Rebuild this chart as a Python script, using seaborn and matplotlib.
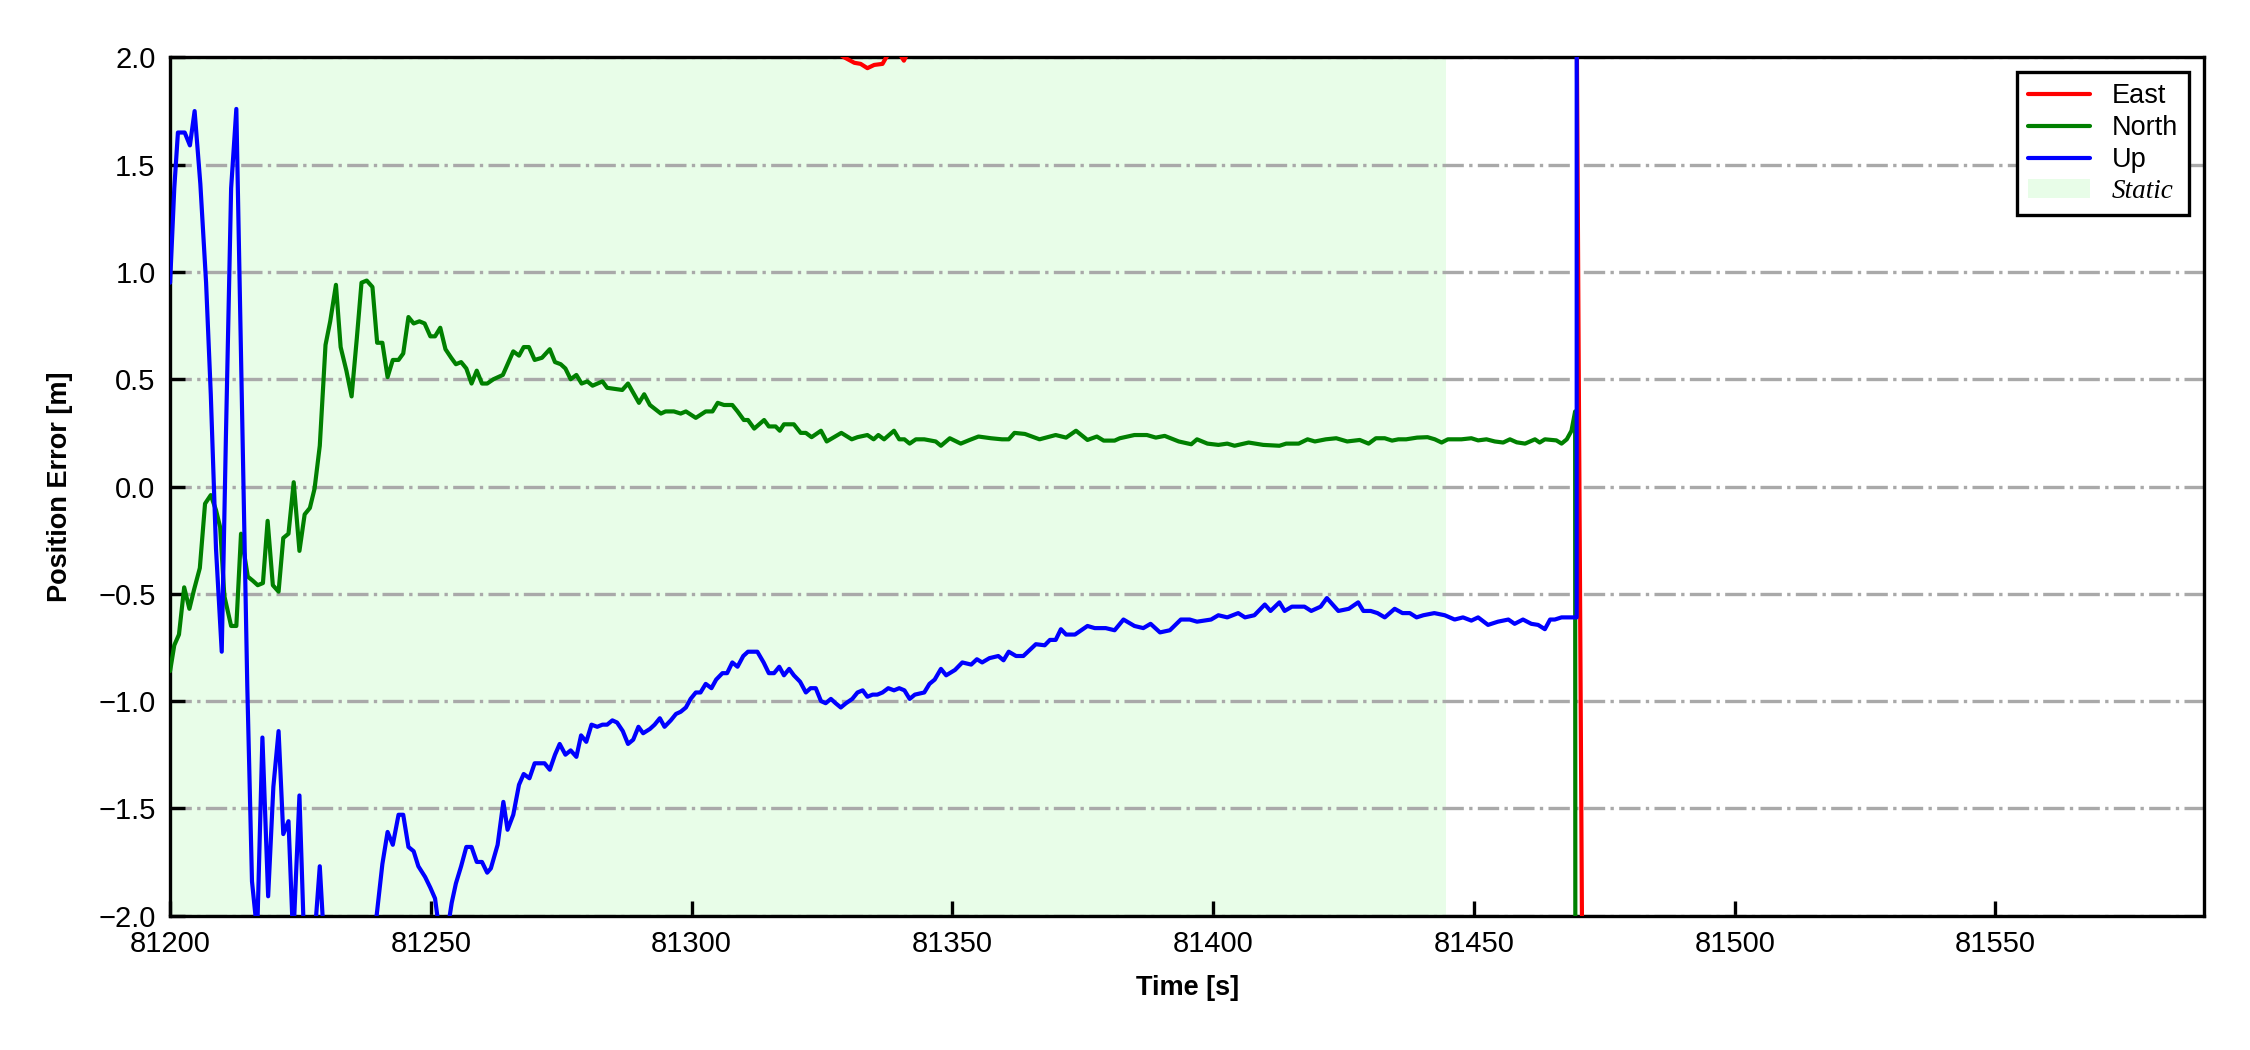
import numpy as np
import matplotlib
matplotlib.use("Agg")
import matplotlib.pyplot as plt
from matplotlib.patches import Patch
import seaborn as sns

# ---------------- data ----------------
t_north = [
    81200.0, 81200.8, 81201.7, 81202.7, 81203.7, 81204.6, 81205.7, 81206.7, 81207.8, 81208.8,
    81209.6, 81210.4, 81211.7, 81212.7, 81213.6, 81214.9, 81215.9, 81216.8, 81217.8, 81218.7,
    81219.7, 81220.8, 81221.7, 81222.7, 81223.7, 81224.8, 81225.8, 81226.8, 81227.7, 81228.7,
    81229.8, 81230.7, 81231.8, 81232.7, 81233.8, 81234.8, 81235.8, 81236.7, 81237.7, 81238.8,
    81239.7, 81240.7, 81241.7, 81242.7, 81243.8, 81244.7, 81245.7, 81246.7, 81247.8, 81248.8,
    81249.9, 81250.8, 81251.8, 81252.8, 81253.9, 81254.8, 81255.8, 81256.8, 81257.8, 81258.8,
    81259.8, 81260.8, 81262.0, 81263.8, 81265.8, 81266.9, 81267.8, 81268.8, 81269.9, 81271.3,
    81272.8, 81273.8, 81274.9, 81275.8, 81276.8, 81277.9, 81278.9, 81280.0, 81281.0, 81282.9,
    81283.8, 81286.7, 81287.8, 81289.9, 81290.9, 81292.0, 81294.1, 81295.0, 81296.6, 81297.9,
    81298.9, 81300.8, 81302.7, 81304.0, 81305.0, 81306.2, 81307.8, 81308.8, 81310.0, 81310.8,
    81312.0, 81313.9, 81314.8, 81316.1, 81316.9, 81317.7, 81319.6, 81320.9, 81321.9, 81323.0,
    81324.8, 81325.9, 81327.3, 81328.7, 81330.7, 81331.8, 81333.7, 81334.9, 81335.8, 81336.9,
    81338.8, 81339.8, 81340.8, 81341.8, 81343.0, 81344.6, 81346.8, 81347.8, 81349.5, 81351.6,
    81353.3, 81355.0, 81357.4, 81359.5, 81360.8, 81361.9, 81363.9, 81366.7, 81369.8, 81371.8,
    81373.7, 81375.9, 81377.7, 81379.0, 81381.1, 81382.1, 81384.9, 81387.3, 81389.0, 81390.7,
    81393.4, 81395.8, 81396.9, 81398.9, 81401.0, 81402.7, 81404.1, 81406.8, 81409.6, 81412.7,
    81414.0, 81416.4, 81418.1, 81419.5, 81421.6, 81423.6, 81425.7, 81428.1, 81429.8, 81431.2,
    81432.9, 81434.3, 81435.5, 81437.0, 81439.1, 81441.1, 81442.5, 81443.8, 81445.0, 81447.6,
    81449.5, 81450.8, 81452.4, 81454.0, 81455.6, 81456.9, 81458.2, 81459.8, 81461.7, 81462.6,
    81463.6, 81465.8, 81466.8, 81467.8, 81468.7, 81469.4, 81469.9,
]
north = [
    -0.86, -0.74, -0.69, -0.47, -0.57, -0.48, -0.38, -0.08, -0.04, -0.11,
    -0.19, -0.51, -0.65, -0.65, -0.22, -0.42, -0.44, -0.46, -0.45, -0.16,
    -0.46, -0.49, -0.24, -0.22, 0.02, -0.30, -0.13, -0.10, -0.01, 0.19,
    0.66, 0.77, 0.94, 0.65, 0.54, 0.42, 0.69, 0.95, 0.96, 0.93,
    0.67, 0.67, 0.51, 0.59, 0.59, 0.62, 0.79, 0.76, 0.77, 0.76,
    0.70, 0.70, 0.74, 0.64, 0.60, 0.57, 0.58, 0.55, 0.48, 0.54,
    0.48, 0.48, 0.50, 0.52, 0.63, 0.61, 0.65, 0.65, 0.59, 0.60,
    0.64, 0.58, 0.57, 0.55, 0.50, 0.52, 0.48, 0.49, 0.47, 0.49,
    0.46, 0.45, 0.48, 0.39, 0.43, 0.38, 0.34, 0.35, 0.35, 0.34,
    0.35, 0.32, 0.35, 0.35, 0.39, 0.38, 0.38, 0.35, 0.31, 0.31,
    0.27, 0.31, 0.28, 0.28, 0.26, 0.29, 0.29, 0.25, 0.25, 0.23,
    0.26, 0.21, 0.23, 0.25, 0.22, 0.23, 0.24, 0.22, 0.24, 0.22,
    0.26, 0.22, 0.22, 0.20, 0.22, 0.22, 0.21, 0.19, 0.225, 0.20,
    0.217, 0.233, 0.225, 0.22, 0.22, 0.25, 0.245, 0.22, 0.24, 0.228,
    0.26, 0.217, 0.233, 0.214, 0.214, 0.225, 0.24, 0.24, 0.228, 0.236,
    0.21, 0.197, 0.22, 0.20, 0.194, 0.20, 0.19, 0.205, 0.194, 0.19,
    0.20, 0.20, 0.22, 0.21, 0.22, 0.225, 0.21, 0.217, 0.20, 0.225,
    0.225, 0.214, 0.22, 0.22, 0.228, 0.23, 0.22, 0.205, 0.22, 0.22,
    0.225, 0.215, 0.22, 0.21, 0.205, 0.22, 0.206, 0.20, 0.22, 0.205,
    0.22, 0.215, 0.20, 0.22, 0.26, 0.35, -30.0,
]

t_up = [
    81200.0, 81200.8, 81201.5, 81202.8, 81203.8, 81204.7, 81205.8, 81206.9, 81207.8, 81208.8,
    81209.9, 81210.7, 81211.7, 81212.7, 81213.7, 81214.8, 81215.7, 81216.7, 81217.7, 81218.8,
    81219.8, 81220.8, 81221.7, 81222.7, 81223.6, 81224.8, 81225.8, 81226.8, 81227.7, 81228.7,
    81229.7, 81231.0, 81233.0, 81235.0, 81237.0, 81238.8, 81239.6, 81240.7, 81241.7, 81242.7,
    81243.8, 81244.7, 81245.7, 81246.7, 81247.6, 81248.9, 81249.9, 81250.8, 81251.5, 81252.5,
    81253.3, 81254.0, 81254.8, 81255.8, 81256.8, 81257.8, 81258.8, 81259.8, 81260.8, 81261.5,
    81262.8, 81263.9, 81264.7, 81265.8, 81266.9, 81267.8, 81268.9, 81269.9, 81271.8, 81272.8,
    81273.8, 81274.7, 81275.8, 81276.8, 81277.9, 81278.8, 81279.8, 81280.8, 81281.9, 81282.9,
    81283.8, 81284.8, 81285.7, 81286.8, 81287.8, 81288.8, 81289.8, 81290.7, 81292.0, 81292.9,
    81293.9, 81294.8, 81296.0, 81297.0, 81297.9, 81298.9, 81299.8, 81300.8, 81301.7, 81302.7,
    81303.8, 81304.7, 81305.9, 81306.8, 81307.8, 81308.8, 81309.9, 81310.8, 81312.6, 81313.8,
    81314.8, 81315.8, 81316.8, 81317.7, 81318.7, 81319.6, 81320.8, 81321.9, 81322.8, 81323.8,
    81324.8, 81325.7, 81326.7, 81327.6, 81328.6, 81329.6, 81330.8, 81331.8, 81332.8, 81333.7,
    81334.7, 81335.6, 81336.6, 81337.7, 81338.8, 81339.8, 81340.8, 81341.8, 81342.8, 81344.6,
    81345.6, 81346.6, 81347.8, 81348.8, 81350.5, 81351.9, 81353.6, 81354.7, 81355.7, 81357.1,
    81358.8, 81359.8, 81360.8, 81362.2, 81363.6, 81366.0, 81367.7, 81368.7, 81369.8, 81370.8,
    81371.8, 81373.5, 81375.9, 81377.3, 81379.4, 81381.1, 81382.8, 81384.9, 81386.6, 81388.0,
    81389.8, 81391.7, 81393.8, 81395.5, 81396.9, 81399.6, 81401.0, 81402.7, 81404.8, 81406.1,
    81407.9, 81409.9, 81411.0, 81412.7, 81413.7, 81415.1, 81417.5, 81418.8, 81420.6, 81421.8,
    81424.0, 81426.0, 81427.8, 81428.8, 81430.2, 81431.5, 81432.9, 81434.8, 81436.3, 81437.7,
    81439.0, 81440.3, 81442.4, 81444.4, 81446.3, 81447.9, 81449.5, 81450.8, 81452.7, 81454.6,
    81456.6, 81457.8, 81459.4, 81461.0, 81462.3, 81463.6, 81464.6, 81465.5, 81466.8, 81468.1,
    81469.7, 81469.75,
]
up = [
    0.95, 1.39, 1.65, 1.65, 1.59, 1.75, 1.41, 0.95, 0.43, -0.29,
    -0.77, 0.23, 1.39, 1.76, 0.48, -0.93, -1.84, -2.08, -1.17, -1.91,
    -1.40, -1.14, -1.62, -1.56, -2.12, -1.44, -2.20, -2.35, -2.10, -1.77,
    -2.20, -2.40, -2.50, -2.45, -2.30, -2.12, -2.00, -1.76, -1.61, -1.67,
    -1.53, -1.53, -1.68, -1.70, -1.77, -1.82, -1.87, -1.92, -2.05, -2.12,
    -2.05, -1.94, -1.85, -1.77, -1.68, -1.68, -1.75, -1.75, -1.80, -1.78,
    -1.67, -1.47, -1.60, -1.53, -1.39, -1.34, -1.36, -1.29, -1.29, -1.32,
    -1.25, -1.20, -1.25, -1.23, -1.26, -1.16, -1.19, -1.11, -1.12, -1.11,
    -1.11, -1.09, -1.10, -1.14, -1.20, -1.18, -1.12, -1.15, -1.13, -1.11,
    -1.08, -1.12, -1.09, -1.06, -1.05, -1.03, -0.99, -0.96, -0.96, -0.92,
    -0.94, -0.90, -0.87, -0.87, -0.82, -0.84, -0.79, -0.77, -0.77, -0.82,
    -0.87, -0.87, -0.84, -0.88, -0.85, -0.88, -0.91, -0.96, -0.94, -0.94,
    -1.00, -1.01, -0.99, -1.01, -1.03, -1.01, -0.99, -0.96, -0.95, -0.98,
    -0.97, -0.97, -0.96, -0.94, -0.95, -0.94, -0.95, -0.99, -0.97, -0.96,
    -0.92, -0.90, -0.85, -0.88, -0.855, -0.82, -0.83, -0.805, -0.82, -0.80,
    -0.79, -0.81, -0.77, -0.79, -0.79, -0.735, -0.74, -0.715, -0.715, -0.665,
    -0.69, -0.69, -0.65, -0.66, -0.66, -0.67, -0.62, -0.65, -0.66, -0.64,
    -0.68, -0.67, -0.62, -0.62, -0.63, -0.62, -0.60, -0.61, -0.59, -0.61,
    -0.60, -0.55, -0.58, -0.54, -0.58, -0.56, -0.56, -0.58, -0.56, -0.52,
    -0.58, -0.57, -0.54, -0.58, -0.58, -0.59, -0.61, -0.57, -0.59, -0.59,
    -0.61, -0.60, -0.59, -0.60, -0.62, -0.61, -0.625, -0.61, -0.645, -0.63,
    -0.62, -0.64, -0.62, -0.64, -0.645, -0.665, -0.62, -0.62, -0.61, -0.61,
    -0.61, 30.0,
]

t_east = [81200.0, 81230.0, 81260.0, 81290.0, 81315.0, 81326.0, 81329.3, 81331.2,
          81332.4, 81333.7, 81335.0, 81336.6, 81337.3, 81338.5, 81339.8, 81340.7,
          81341.6, 81350.0, 81380.0, 81420.0, 81469.7, 81470.8]
east = [3.4, 3.0, 2.6, 2.3, 2.12, 2.05, 2.0, 1.975,
        1.97, 1.95, 1.965, 1.97, 2.0, 2.04, 2.02, 1.985,
        2.03, 2.08, 2.15, 2.2, 2.2, -2.4]

static_span = [81200.0, 81444.6]
series_labels = ["East", "North", "Up", "Static"]
series_colors = ["#ff0000", "#008000", "#0000ff"]
static_color = "#e8fde8"
x_ticks = [81200, 81250, 81300, 81350, 81400, 81450, 81500, 81550]
y_ticks = [-2.0, -1.5, -1.0, -0.5, 0.0, 0.5, 1.0, 1.5, 2.0]

# ---------------- style ----------------
sns.set_theme(style="ticks")
plt.rcParams['font.family'] = ['Liberation Sans', 'DejaVu Sans']
plt.rcParams['axes.unicode_minus'] = True
plt.rcParams['text.color'] = 'black'
plt.rcParams['axes.labelcolor'] = 'black'
plt.rcParams['xtick.color'] = 'black'
plt.rcParams['ytick.color'] = 'black'

fig = plt.figure(figsize=(7.5, 3.5), dpi=300)
ax = fig.add_axes([0.0756, 0.128, 0.9040, 0.8173])
ax.set_facecolor('white')

ax.axvspan(static_span[0], static_span[1], color=static_color, lw=0, zorder=0)

lw = 1.0
for tt, vv, c, lab in [(t_east, east, series_colors[0], series_labels[0]),
                       (t_north, north, series_colors[1], series_labels[1]),
                       (t_up, up, series_colors[2], series_labels[2])]:
    sns.lineplot(x=tt, y=vv, ax=ax, color=c, lw=lw, estimator=None,
                 sort=False, label=lab, zorder=3)

ax.set_xlim(81200, 81590)
ax.set_ylim(-2, 2)
ax.set_xticks(x_ticks)
ax.set_yticks(y_ticks)
ax.ticklabel_format(axis='x', useOffset=False, style='plain')

ax.set_axisbelow(True)
ax.yaxis.grid(True, linestyle='-.', color='#a9a9a9', lw=0.8)
ax.xaxis.grid(False)

ax.tick_params(direction='in', length=3.5, width=0.8, labelsize=7,
               colors='black', top=False, right=False, pad=3.5)
for s in ax.spines.values():
    s.set_color('black')
    s.set_linewidth(0.8)

ax.set_xlabel('Time [s]', fontsize=6.5, fontweight='bold', labelpad=4)
ax.set_ylabel('Position Error [m]', fontsize=6.5, fontweight='bold', labelpad=6)

lines = ax.get_lines()[:3]
handles = list(lines) + [Patch(facecolor=static_color, edgecolor='none')]
leg = ax.legend(handles=handles, labels=series_labels, loc='upper right',
                fontsize=6.5, frameon=True, fancybox=False, edgecolor='black',
                framealpha=1, borderaxespad=0.55, handlelength=2.3,
                handletextpad=0.8, labelspacing=0.22, borderpad=0.4)
leg.get_frame().set_linewidth(0.8)
for t in leg.get_texts():
    t.set_color('black')
st = leg.get_texts()[3]
st.set_fontfamily(['Liberation Serif', 'DejaVu Serif'])
st.set_fontstyle('italic')

fig.savefig('out.png', dpi=300)
